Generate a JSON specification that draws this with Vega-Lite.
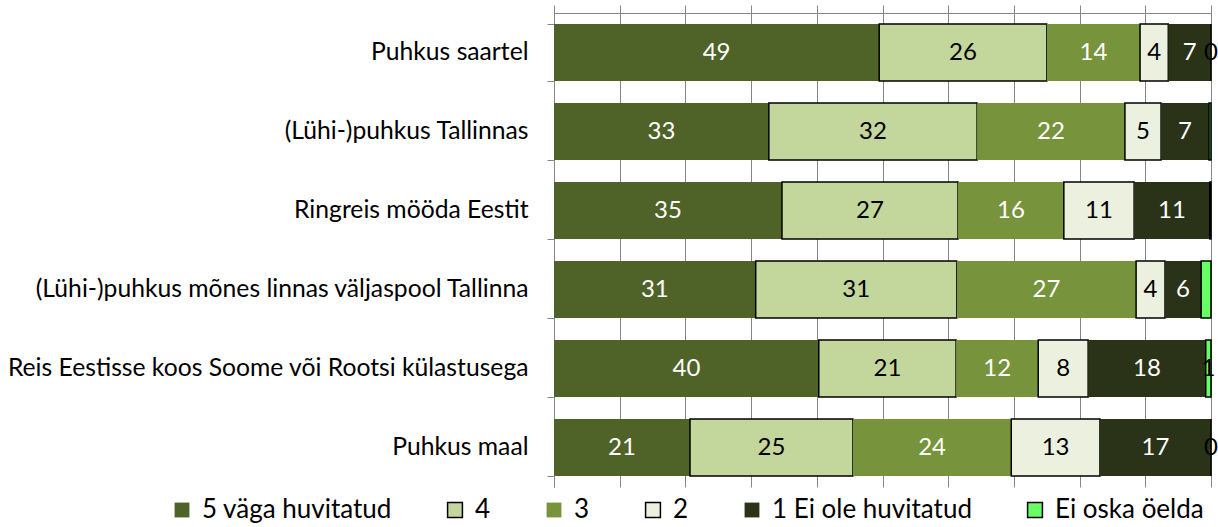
{
  "$schema": "https://vega.github.io/schema/vega-lite/v6.json",
  "autosize": {"type": "none"},
  "padding": {"left": 554, "top": 13, "right": 7, "bottom": 40},
  "width": 657,
  "height": 474,
  "background": "white",
  "config": {
    "view": {"stroke": null},
    "font": "Lato",
    "axis": {"labelFont": "Lato", "titleFont": "Lato"},
    "legend": {"labelFont": "Lato", "symbolStrokeWidth": 1.5}
  },
  "data": {
    "values": [
      {"cat": "Puhkus saartel", "resp": "5 väga huvitatud", "value": 49.5, "label": "49"},
      {"cat": "Puhkus saartel", "resp": "4", "value": 25.5, "label": "26"},
      {"cat": "Puhkus saartel", "resp": "3", "value": 14.2, "label": "14"},
      {"cat": "Puhkus saartel", "resp": "2", "value": 4.3, "label": "4"},
      {"cat": "Puhkus saartel", "resp": "1 Ei ole huvitatud", "value": 6.5, "label": "7"},
      {"cat": "Puhkus saartel", "resp": "Ei oska öelda", "value": 0, "label": "0"},
      {"cat": "(Lühi-)puhkus Tallinnas ", "resp": "5 väga huvitatud", "value": 32.7, "label": "33"},
      {"cat": "(Lühi-)puhkus Tallinnas ", "resp": "4", "value": 31.7, "label": "32"},
      {"cat": "(Lühi-)puhkus Tallinnas ", "resp": "3", "value": 22.5, "label": "22"},
      {"cat": "(Lühi-)puhkus Tallinnas ", "resp": "2", "value": 5.5, "label": "5"},
      {"cat": "(Lühi-)puhkus Tallinnas ", "resp": "1 Ei ole huvitatud", "value": 7.3, "label": "7"},
      {"cat": "(Lühi-)puhkus Tallinnas ", "resp": "Ei oska öelda", "value": 0.3, "label": ""},
      {"cat": "Ringreis mööda Eestit ", "resp": "5 väga huvitatud", "value": 34.7, "label": "35"},
      {"cat": "Ringreis mööda Eestit ", "resp": "4", "value": 26.8, "label": "27"},
      {"cat": "Ringreis mööda Eestit ", "resp": "3", "value": 16.1, "label": "16"},
      {"cat": "Ringreis mööda Eestit ", "resp": "2", "value": 10.7, "label": "11"},
      {"cat": "Ringreis mööda Eestit ", "resp": "1 Ei ole huvitatud", "value": 11.5, "label": "11"},
      {"cat": "Ringreis mööda Eestit ", "resp": "Ei oska öelda", "value": 0.2, "label": ""},
      {"cat": "(Lühi-)puhkus mõnes linnas väljaspool Tallinna ", "resp": "5 väga huvitatud", "value": 30.7, "label": "31"},
      {"cat": "(Lühi-)puhkus mõnes linnas väljaspool Tallinna ", "resp": "4", "value": 30.6, "label": "31"},
      {"cat": "(Lühi-)puhkus mõnes linnas väljaspool Tallinna ", "resp": "3", "value": 27.3, "label": "27"},
      {"cat": "(Lühi-)puhkus mõnes linnas väljaspool Tallinna ", "resp": "2", "value": 4.4, "label": "4"},
      {"cat": "(Lühi-)puhkus mõnes linnas väljaspool Tallinna ", "resp": "1 Ei ole huvitatud", "value": 5.5, "label": "6"},
      {"cat": "(Lühi-)puhkus mõnes linnas väljaspool Tallinna ", "resp": "Ei oska öelda", "value": 1.5, "label": ""},
      {"cat": "Reis Eestisse koos Soome või Rootsi külastusega", "resp": "5 väga huvitatud", "value": 40.3, "label": "40"},
      {"cat": "Reis Eestisse koos Soome või Rootsi külastusega", "resp": "4", "value": 20.9, "label": "21"},
      {"cat": "Reis Eestisse koos Soome või Rootsi külastusega", "resp": "3", "value": 12.5, "label": "12"},
      {"cat": "Reis Eestisse koos Soome või Rootsi külastusega", "resp": "2", "value": 7.6, "label": "8"},
      {"cat": "Reis Eestisse koos Soome või Rootsi külastusega", "resp": "1 Ei ole huvitatud", "value": 17.9, "label": "18"},
      {"cat": "Reis Eestisse koos Soome või Rootsi külastusega", "resp": "Ei oska öelda", "value": 0.8, "label": "1"},
      {"cat": "Puhkus maal", "resp": "5 väga huvitatud", "value": 20.7, "label": "21"},
      {"cat": "Puhkus maal", "resp": "4", "value": 24.8, "label": "25"},
      {"cat": "Puhkus maal", "resp": "3", "value": 24.1, "label": "24"},
      {"cat": "Puhkus maal", "resp": "2", "value": 13.5, "label": "13"},
      {"cat": "Puhkus maal", "resp": "1 Ei ole huvitatud", "value": 16.9, "label": "17"},
      {"cat": "Puhkus maal", "resp": "Ei oska öelda", "value": 0, "label": "0"}
    ]
  },
  "transform": [
    {"calculate": "indexof(['5 väga huvitatud','4','3','2','1 Ei ole huvitatud','Ei oska öelda'], datum.resp)", "as": "ord"},
    {"stack": "value", "groupby": ["cat"], "sort": [{"field": "ord", "order": "ascending"}], "offset": "normalize", "as": ["v0", "v1"]},
    {"calculate": "(datum.v0 + datum.v1) / 2", "as": "mid"}
  ],
  "encoding": {
    "y": {
      "field": "cat",
      "type": "nominal",
      "sort": null,
      "title": null,
      "scale": {"paddingInner": 0.28, "paddingOuter": 0.14},
      "axis": {
        "labelFontSize": 24.7,
        "labelColor": "black",
        "labelLimit": 600,
        "labelPadding": 19,
        "tickBand": "extent",
        "tickSize": 7,
        "tickColor": "#868686",
        "domainColor": "#868686",
        "grid": false
      }
    }
  },
  "layer": [
    {
      "mark": {"type": "bar", "strokeWidth": 1.5},
      "encoding": {
        "x": {
          "field": "v0",
          "type": "quantitative",
          "scale": {"domain": [0, 1], "nice": false},
          "axis": {
            "orient": "top",
            "values": [0, 0.1, 0.2, 0.3, 0.4, 0.5, 0.6, 0.7, 0.8, 0.9, 1],
            "labels": false,
            "title": null,
            "tickSize": 8,
            "tickColor": "#868686",
            "domainColor": "#868686",
            "grid": true,
            "gridColor": "#868686",
            "gridOpacity": 1
          }
        },
        "x2": {"field": "v1"},
        "color": {
          "field": "resp",
          "type": "nominal",
          "title": null,
          "scale": {
            "domain": ["5 väga huvitatud", "4", "3", "2", "1 Ei ole huvitatud", "Ei oska öelda"],
            "range": ["#4F6228", "#C3D69B", "#77933C", "#EBF1DE", "#2A3318", "#66FF66"]
          },
          "legend": {
            "orient": "none",
            "legendX": -385,
            "legendY": 484,
            "direction": "horizontal",
            "columns": 6,
            "columnPadding": 50,
            "symbolType": "square",
            "symbolSize": 220,
            "labelFontSize": 26,
            "labelColor": "black",
            "labelOffset": 7,
            "labelLimit": 400
          }
        },
        "stroke": {
          "field": "resp",
          "type": "nominal",
          "title": null,
          "scale": {
            "domain": ["5 väga huvitatud", "4", "3", "2", "1 Ei ole huvitatud", "Ei oska öelda"],
            "range": ["transparent", "black", "transparent", "black", "transparent", "black"]
          }
        }
      }
    },
    {
      "mark": {"type": "text", "fontSize": 24, "baseline": "middle", "align": "center"},
      "encoding": {
        "x": {"field": "mid", "type": "quantitative"},
        "text": {"field": "label"},
        "color": {
          "condition": {"test": "datum.resp === '5 väga huvitatud' || datum.resp === '3' || datum.resp === '1 Ei ole huvitatud'", "value": "white"},
          "value": "black"
        }
      }
    }
  ]
}
